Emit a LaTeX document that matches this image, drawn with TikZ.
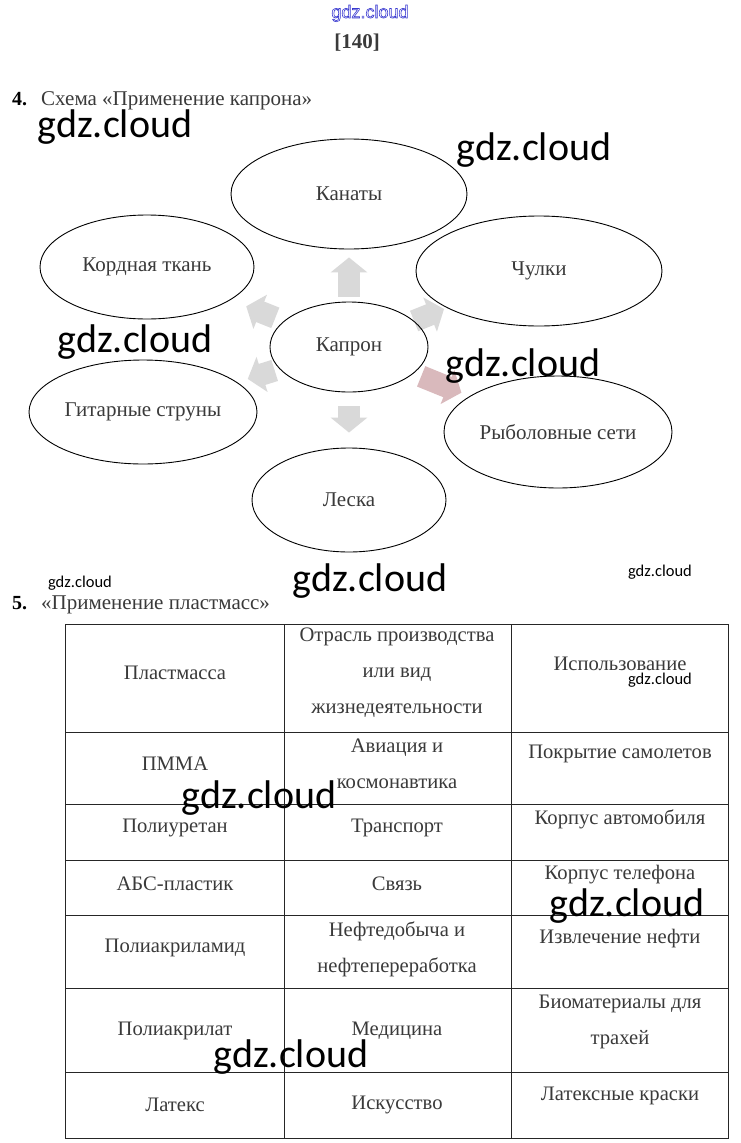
\documentclass[tikz,border=0pt]{standalone}
\usepackage{fontspec}
\setmainfont{Liberation Serif}
\newfontfamily\wmfont{Carlito}
\newfontfamily\topfont{Liberation Sans}
\usetikzlibrary{shapes.geometric,arrows.meta}
\definecolor{txt}{HTML}{3A3A3A}
\definecolor{arrg}{HTML}{D9D9D9}
\definecolor{arrr}{HTML}{D9B9BC}
\definecolor{wmblue}{HTML}{3A3AD0}
\pgfdeclarelayer{bg}
\pgfsetlayers{bg,main}
\begin{document}
\begin{tikzpicture}[x=1pt,y=-1pt,
  ell/.style={draw=black,line width=0.9pt,ellipse,inner sep=0pt,text=txt,font=\fontsize{21}{25}\selectfont},
  blk/.style={line width=22pt,draw=arrg,-{Triangle[width=36pt,length=15pt]}},
  cell/.style={text=txt,font=\fontsize{20.6}{36}\selectfont,align=center,inner sep=0pt},
  hd/.style={text=txt,font=\fontsize{21}{24}\selectfont,inner sep=0pt,anchor=base west},
  hdb/.style={text=black,font=\bfseries\fontsize{20}{24}\selectfont,inner sep=0pt,anchor=base west},
  wm/.style={font=\wmfont\fontsize{40}{44}\selectfont,text=black,inner sep=0pt,anchor=base},
  wms/.style={font=\wmfont\fontsize{16.5}{18}\selectfont,text=black,inner sep=0pt,anchor=base},
  tline/.style={draw=black!85,line width=1pt}
]
\useasboundingbox (0,0) rectangle (740,1143);
\begin{pgfonlayer}{bg}
\fill[white] (0,0) rectangle (740,1143);
\end{pgfonlayer}

% header
\node[font=\topfont\fontsize{18}{20}\selectfont,text=wmblue,inner sep=0pt,anchor=base] (wtop) at (370,18) {\special{pdf:literal direct 1 Tr 0.6 w}gdz.cloud\special{pdf:literal direct 0 Tr}};
\node[font=\bfseries\fontsize{21}{24}\selectfont,text=txt,inner sep=0pt,anchor=base] (page) at (357,48) {[140]};
\node[hdb] (n4) at (12,105) {4.};
\node[hd] (h4) at (41,105) {Схема «Применение капрона»};

% ellipses
\node[ell,minimum width=236pt,minimum height=110pt] (kan) at (349,194) {Канаты};
\node[ell,minimum width=246pt,minimum height=110pt] (chu) at (539,271) {Чулки};
\node[ell,minimum width=214pt,minimum height=104pt] (kord) at (147,267) {Кордная ткань};
\node[ell,minimum width=158pt,minimum height=90pt] (kap) at (349,347) {Капрон};
\node[ell,minimum width=228pt,minimum height=104pt] (git) at (143,412) {Гитарные струны};
\node[ell,minimum width=228pt,minimum height=112pt] (ryb) at (558,432) {Рыболовные сети};
\node[ell,minimum width=194pt,minimum height=104pt] (les) at (349,500) {Леска};

\begin{pgfonlayer}{bg}
\draw[blk,shorten <=5pt,shorten >=8pt] (kap) -- (kan);
\draw[blk,shorten <=14pt,shorten >=15pt] (kap) -- (les);
\draw[blk,shorten <=9pt,shorten >=17pt] (kap) -- (kord);
\draw[blk,shorten <=5pt,shorten >=11pt] (kap) -- (git);
\draw[blk,shorten <=0pt,shorten >=3pt] (kap) -- (chu);
\draw[blk,draw=arrr,shorten <=8pt,shorten >=9pt] (kap) -- (ryb);
\end{pgfonlayer}

% section 5
\node[hdb] (n5) at (12,609) {5.};
\node[hd] (h5) at (41,609) {«Применение пластмасс»};

\draw[tline] (65,624) rectangle (728,1138);
\foreach \y in {732,804,860,915,988,1072} \draw[tline] (65,\y) -- (728,\y);
\foreach \x in {284,511} \draw[tline] (\x,624) -- (\x,1138);

\node[cell] (c11) at (175,673) {Пластмасса};
\node[cell] (c12) at (397,673) {Отрасль производства\\или вид\\жизнедеятельности};
\node[cell] (c13) at (620,664) {Использование};
\node[cell] (c21) at (175,764) {ПММА};
\node[cell] (c22) at (397,764) {Авиация и\\космонавтика};
\node[cell] (c23) at (620,754) {Покрытие самолетов};
\node[cell] (c31) at (175,828) {Полиуретан};
\node[cell] (c32) at (397,828) {Транспорт};
\node[cell] (c33) at (620,819) {Корпус автомобиля};
\node[cell] (c41) at (175,884) {АБС-пластик};
\node[cell] (c42) at (397,884) {Связь};
\node[cell] (c43) at (620,875) {Корпус телефона};
\node[cell] (c51) at (175,948) {Полиакриламид};
\node[cell] (c52) at (397,949) {Нефтедобыча и\\нефтепереработка};
\node[cell] (c53) at (620,939) {Извлечение нефти};
\node[cell] (c61) at (175,1031) {Полиакрилат};
\node[cell] (c62) at (397,1031) {Медицина};
\node[cell] (c63) at (620,1022) {Биоматериалы для\\трахей};
\node[cell] (c71) at (175,1105) {Латекс};
\node[cell] (c72) at (397,1105) {Искусство};
\node[cell] (c73) at (620,1096) {Латексные краски};

% watermarks
\node[wm] (w1) at (115,137) {gdz.cloud};
\node[wm] (w2) at (534,160) {gdz.cloud};
\node[wm] (w3) at (135,352) {gdz.cloud};
\node[wm] (w4) at (523,376) {gdz.cloud};
\node[wm] (w5) at (370,591) {gdz.cloud};
\node[wm] (w6) at (259,808) {gdz.cloud};
\node[wm] (w7) at (627,916) {gdz.cloud};
\node[wm] (w8) at (291,1067) {gdz.cloud};
\node[wms] (s1) at (80,587) {gdz.cloud};
\node[wms] (s2) at (660,576) {gdz.cloud};
\node[wms] (s3) at (660,684) {gdz.cloud};
\end{tikzpicture}
\end{document}
